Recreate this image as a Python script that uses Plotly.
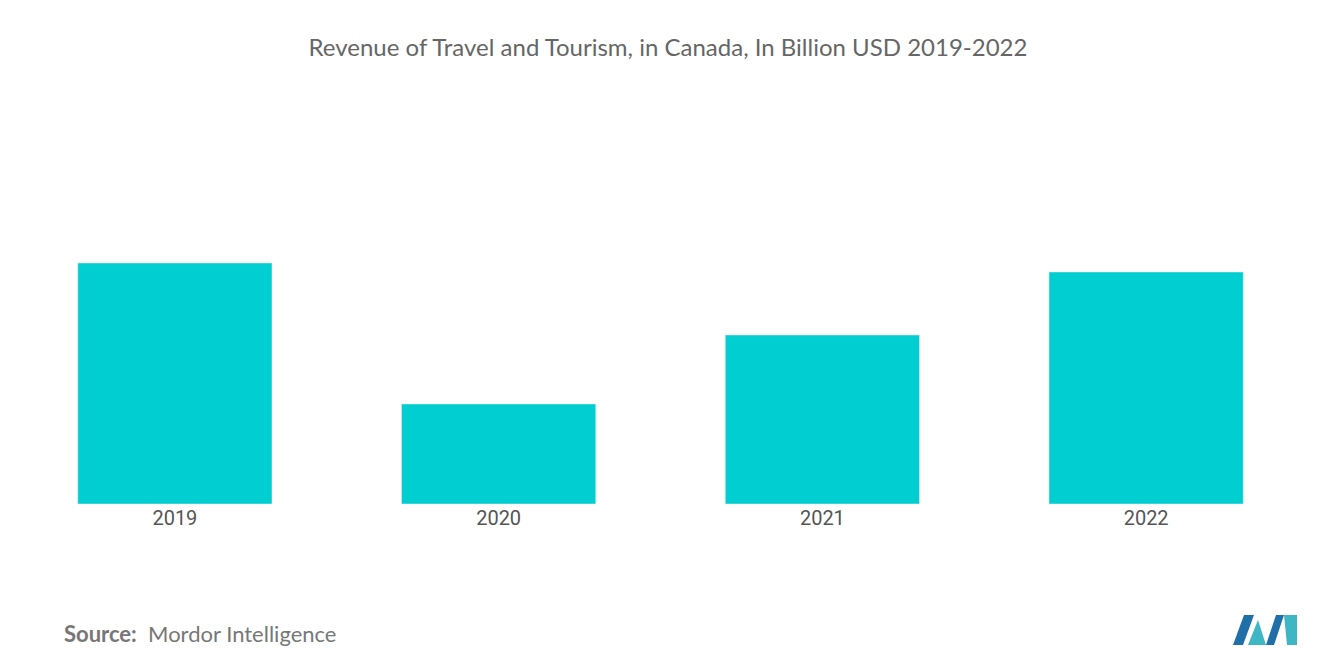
import plotly.graph_objects as go

years = ["2019", "2020", "2021", "2022"]
revenue = [24.1, 10.0, 16.9, 23.2]

fig = go.Figure(go.Bar(x=years, y=revenue, marker_color="#00CED1", width=0.6))
fig.update_layout(
    width=1320, height=665, paper_bgcolor="white", plot_bgcolor="white",
    margin=dict(l=5, r=20, t=100, b=169),
    title=dict(text="Revenue of Travel and Tourism, in Canada, In Billion USD 2019-2022",
               x=0.5, xanchor="center", y=0.94, yanchor="middle",
               font=dict(family="Lato", size=24, color="#666666")),
    xaxis=dict(showgrid=False, showline=False, ticks="", tickfont=dict(family="Roboto", size=20, color="#555555")),
    yaxis=dict(visible=False, range=[0, 39.6]),
    showlegend=False,
)
fig.add_annotation(xref="paper", yref="paper", x=0.038, y=-0.327, xanchor="left", yanchor="middle",
                   showarrow=False, text="<b>Source:</b>  Mordor Intelligence",
                   font=dict(family="Lato", size=22, color="#777777"))
# logo
for pts, col in [
    ("M1225,637 L1236,607 L1246,607 L1235,637 Z", "#1f6fa8"),
    ("M1240,637 L1250,612 L1258,637 Z", "#3fb6c4"),
    ("M1258,637 L1268,607 L1276,607 L1266,637 Z", "#1f6fa8"),
    ("M1276,607 L1289,607 L1289,637 L1279,637 Z", "#3fb6c4"),
]:
    fig.add_shape(type="path", xref="paper", yref="paper", line_width=0, fillcolor=col,
                  path=pts)
# convert pixel paths to paper coords
W, H, L, T, B = 1320, 665, 5, 100, 169
pw, ph = W - L - 20, H - T - B
new_shapes = []
for s in fig.layout.shapes:
    parts = s.path.replace("M", " M ").replace("L", " L ").replace("Z", " Z ").split()
    out = []
    for p in parts:
        if "," in p:
            px, py = map(float, p.split(","))
            out.append(f"{(px-L)/pw:.5f},{(H-B-py)/ph:.5f}")
        else:
            out.append(p)
    s.path = " ".join(out)
fig.write_html("out.html")
